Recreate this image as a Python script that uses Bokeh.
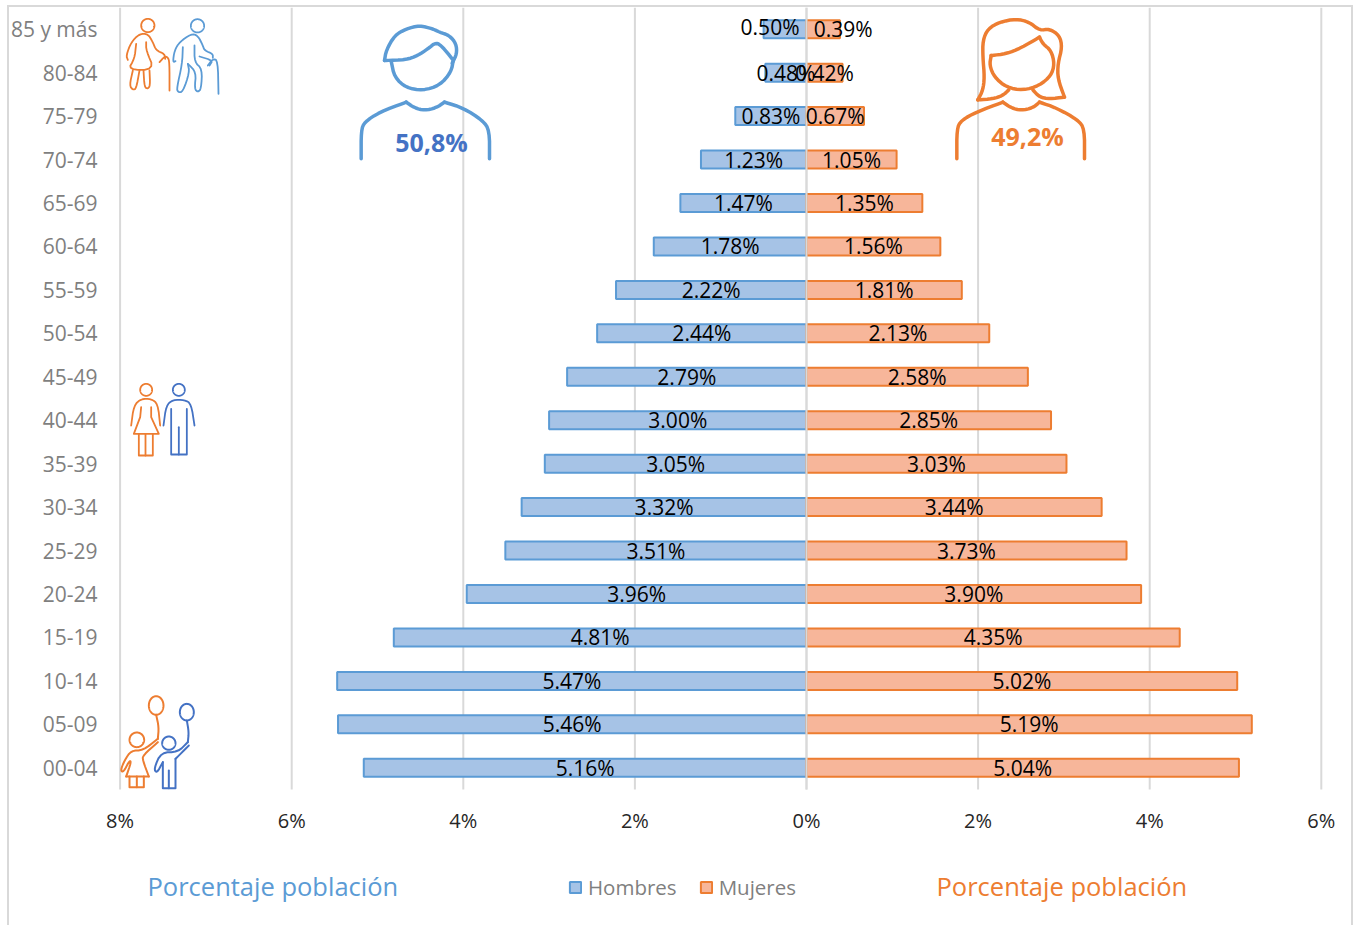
from bokeh.plotting import figure
from bokeh.models import (Range1d, ColumnDataSource, FixedTicker, Legend, LegendItem)
from bokeh.core.properties import value
from bokeh.embed import file_html
from bokeh.resources import INLINE
import math

# ---- data ----
age_groups = ["00-04", "05-09", "10-14", "15-19", "20-24", "25-29", "30-34", "35-39", "40-44",
              "45-49", "50-54", "55-59", "60-64", "65-69", "70-74", "75-79", "80-84", "85 y más"]
hombres = [5.16, 5.46, 5.47, 4.81, 3.96, 3.51, 3.32, 3.05, 3.00,
           2.79, 2.44, 2.22, 1.78, 1.47, 1.23, 0.83, 0.48, 0.50]
mujeres = [5.04, 5.19, 5.02, 4.35, 3.90, 3.73, 3.44, 3.03, 2.85,
           2.58, 2.13, 1.81, 1.56, 1.35, 1.05, 0.67, 0.42, 0.39]
x_ticks = [-8, -6, -4, -2, 0, 2, 4, 6]
x_tick_labels = {-8: "8%", -6: "6%", -4: "4%", -2: "2%", 0: "0%", 2: "2%", 4: "4%", 6: "6%"}
total_hombres = "50,8%"
total_mujeres = "49,2%"
axis_caption = "Porcentaje población"

BLUE, BLUE_F = "#5B9BD5", "#A6C3E6"
DBLUE = "#4472C4"
ORANGE, ORANGE_F = "#ED7D31", "#F7B69A"
GRID, GRAY = "#D9D9D9", "#7F7F7F"
FONT = "Open Sans"
W, H = 1353, 925
F_TOP, F_BOT, LEFT, RIGHT, ZERO, PERPCT, ROW = 7, 789, 104, 1351, 806, 85.8, 43.44

rows = list(range(len(age_groups)))
grad = f"linear-gradient({GRID},{GRID})"
frame_css = (f"{grad} 7px 5px / 2px 920px no-repeat, {grad} 7px 5px / 1346px 2px no-repeat, "
             f"{grad} 1351px 5px / 2px 920px no-repeat, #ffffff")

p = figure(width=W, height=H, output_backend="svg", toolbar_location=None,
           x_range=Range1d((LEFT - ZERO) / PERPCT, (RIGHT - ZERO) / PERPCT),
           y_range=Range1d(-0.5 - (H - F_BOT) / ROW, len(age_groups) - 0.5),
           min_border_left=LEFT, min_border_right=W - RIGHT,
           min_border_top=F_TOP, min_border_bottom=0,
           outline_line_color=None, border_fill_color=None, background_fill_color=None,
           styles={"background": frame_css})
p.extra_x_ranges["px"] = Range1d(LEFT + 1, RIGHT + 1)
p.extra_y_ranges["py"] = Range1d(H, F_TOP)

p.grid.visible = False
p.segment(x0=x_ticks, x1=x_ticks, y0=[-0.5] * len(x_ticks), y1=[len(age_groups) - 0.5] * len(x_ticks),
          line_color=GRID, line_width=2)

p.xaxis.fixed_location = -0.5
p.xaxis.ticker = FixedTicker(ticks=x_ticks)
p.xaxis.major_label_overrides = x_tick_labels
p.xaxis.axis_line_color = None
p.xaxis.major_tick_line_color = None
p.xaxis.minor_tick_line_color = None
p.xaxis.major_label_standoff = 12
p.xaxis.major_label_text_font = FONT
p.xaxis.major_label_text_font_size = "20px"
p.xaxis.major_label_text_color = "#262626"
p.yaxis.ticker = FixedTicker(ticks=rows)
p.yaxis.major_label_overrides = dict(zip(rows, age_groups))
p.yaxis.axis_line_color = None
p.yaxis.major_tick_line_color = None
p.yaxis.minor_tick_line_color = None
p.yaxis.major_label_standoff = 1
p.yaxis.major_label_text_font = FONT
p.yaxis.major_label_text_font_size = "21px"
p.yaxis.major_label_text_color = GRAY

src = ColumnDataSource(dict(age=rows, h=[-v for v in hombres], m=mujeres))
BAR_H = 18 / ROW
r_h = p.hbar(y="age", left=0, right="h", height=BAR_H, source=src, fill_color=BLUE_F, line_color=BLUE, line_width=2)
r_m = p.hbar(y="age", left=0, right="m", height=BAR_H, source=src, fill_color=ORANGE_F, line_color=ORANGE, line_width=2)
p.segment(x0=[0], x1=[0], y0=[-0.5], y1=[len(age_groups) - 0.5], line_color=GRID, line_width=2)

def fmt(v):
    return f"{v:.2f}%"

lab_h = ColumnDataSource(dict(x=[-v / 2 for v in hombres], y=rows, t=[fmt(v) for v in hombres],
                              dx=[-15 if a == "85 y más" else 0 for a in age_groups],
                              dy=[-2 if a == "85 y más" else 0 for a in age_groups]))
lab_m = ColumnDataSource(dict(x=[v / 2 for v in mujeres], y=rows, t=[fmt(v) for v in mujeres],
                              dx=[20 if a == "85 y más" else 0 for a in age_groups],
                              dy=[0 for a in age_groups]))
for s in (lab_h, lab_m):
    p.text(x="x", y="y", text="t", x_offset="dx", y_offset="dy", source=s, text_align="center", text_baseline="middle",
           text_font=value(FONT), text_font_size="21px", text_color="#000000")

# ---- decorative icons, drawn on a pixel range ----
def smooth(pts, n=2):
    for _ in range(n):
        out = [pts[0]]
        for a, b in zip(pts, pts[1:]):
            out += [(.75 * a[0] + .25 * b[0], .75 * a[1] + .25 * b[1]), (.25 * a[0] + .75 * b[0], .25 * a[1] + .75 * b[1])]
        out.append(pts[-1])
        pts = out
    return pts

def draw(paths, color, width, ox, oy, sm=True):
    xs, ys = [], []
    for path in paths:
        q = smooth(path) if sm else path
        xs.append([ox + a / 3 for a, _ in q])
        ys.append([oy + b / 3 for _, b in q])
    p.multi_line(xs, ys, line_color=color, line_width=width, x_range_name="px", y_range_name="py",
                 line_cap="round", line_join="round")

def ring(cx, cy, rx, ry=None):
    ry = ry or rx
    return [(cx + rx * math.cos(i * math.pi / 18), cy + ry * math.sin(i * math.pi / 18)) for i in range(37)]

# man
draw([[(135, 180), (140, 150), (165, 105), (200, 85), (240, 75), (280, 85), (300, 95), (330, 105), (350, 130), (352, 160), (338, 188)],
      [(135, 180), (200, 178), (235, 165), (265, 145), (290, 125), (310, 140), (338, 175)],
      [(155, 182), (165, 230), (200, 262), (250, 270), (300, 255), (335, 215), (342, 175)],
      [(65, 475), (65, 390), (75, 365), (120, 335), (200, 305)], [(200, 305), (225, 322), (255, 330), (290, 322), (315, 305)],
      [(315, 305), (370, 322), (430, 360), (450, 390), (450, 475)]], BLUE, 3.5, 340, 0)
# woman
draw([[(115, 298), (130, 270), (135, 230), (130, 170), (130, 120), (145, 85), (180, 65), (230, 55), (270, 65), (300, 90), (330, 85), (360, 105), (368, 140), (355, 190), (355, 235), (375, 290)],
      [(375, 290), (330, 295), (300, 290), (280, 268)], [(115, 298), (160, 295), (190, 285), (208, 268)],
      [(155, 165), (200, 160), (245, 142), (300, 110)], [(300, 110), (310, 130), (335, 150), (345, 190), (335, 225), (300, 255), (250, 270), (200, 260), (165, 230), (150, 195), (155, 165)],
      [(52, 475), (52, 385), (65, 360), (110, 335), (190, 305)], [(190, 305), (215, 322), (245, 330), (280, 322), (300, 305)],
      [(300, 305), (350, 322), (415, 358), (435, 385), (435, 475)]], ORANGE, 3.5, 940, 0)
# elderly couple
draw([ring(445, 75, 20), [(385, 178), (380, 165), (395, 125), (420, 100), (445, 100), (460, 125), (470, 150), (495, 160), (497, 175)],
      [(410, 130), (405, 175), (385, 208), (465, 208), (440, 150), (440, 125)],
      [(400, 210), (390, 255), (400, 268), (410, 265), (420, 210)], [(432, 210), (435, 260), (445, 265), (452, 255), (450, 210)],
      [(480, 185), (495, 168), (505, 170), (510, 185), (510, 270)]], ORANGE, 1.8, 0, 0)
draw([ring(594, 76, 20), [(528, 182), (520, 185), (525, 150), (540, 125), (575, 100), (595, 105), (610, 135), (615, 150), (640, 160), (640, 172)],
      [(550, 140), (548, 190), (532, 262), (535, 275), (550, 275), (570, 215), (565, 190)],
      [(585, 135), (585, 185), (608, 205), (605, 265), (595, 275), (585, 265), (590, 215), (565, 190)],
      [(600, 168), (640, 180), (630, 195)], [(625, 195), (640, 175), (655, 180), (657, 280)]], BLUE, 1.8, 0, 0)
# adult couple
draw([ring(140, 58, 18), [(95, 165), (103, 105), (125, 85), (155, 85), (175, 100), (182, 165)]], ORANGE, 1.8, 100, 370)
draw([[(125, 110), (122, 140), (103, 190), (178, 190), (155, 140), (155, 110)],
      [(118, 190), (118, 255), (160, 255), (160, 190)], [(138, 190), (138, 255)]], ORANGE, 1.8, 100, 370, sm=False)
draw([ring(238, 58, 18), [(192, 165), (200, 105), (220, 88), (255, 88), (275, 100), (285, 165)]], DBLUE, 1.8, 100, 370)
draw([[(215, 115), (215, 252), (262, 252), (262, 115)], [(238, 170), (238, 252)]], DBLUE, 1.8, 100, 370, sm=False)
# children
draw([ring(170, 45, 22, 28), [(170, 73), (178, 110), (175, 145)], ring(112, 148, 22),
      [(175, 145), (130, 180), (95, 180), (75, 210), (63, 240), (72, 245), (90, 210), (95, 215), (80, 258)],
      [(148, 258), (130, 210), (130, 195), (175, 155)]], ORANGE, 2, 100, 690)
draw([[(80, 258), (148, 258)], [(90, 258), (90, 290), (133, 290), (133, 258)], [(112, 258), (112, 290)]], ORANGE, 2, 100, 690, sm=False)
draw([ring(262, 65, 21, 25), [(262, 90), (268, 125), (265, 155)], ring(208, 158, 20),
      [(265, 155), (235, 185), (185, 185), (163, 235), (172, 248), (190, 215)], [(228, 205), (268, 165)]], DBLUE, 2, 100, 690)
draw([[(190, 215), (190, 293), (228, 293), (228, 205)], [(208, 240), (208, 293)]], DBLUE, 2, 100, 690, sm=False)

# ---- totals and captions ----
cap = ColumnDataSource(dict(x=[432, 1028], y=[141, 135], t=[total_hombres, total_mujeres], c=[DBLUE, ORANGE]))
p.text(x="x", y="y", text="t", text_color="c", source=cap, x_range_name="px", y_range_name="py", text_align="center",
       text_baseline="middle", text_font=value(FONT), text_font_style="bold", text_font_size="25px")

cap2 = ColumnDataSource(dict(x=[148, 937], y=[885, 885], t=[axis_caption, axis_caption], c=[BLUE, ORANGE]))
p.text(x="x", y="y", text="t", text_color="c", source=cap2, x_range_name="px", y_range_name="py", text_align="left",
       text_baseline="middle", text_font=value(FONT), text_font_size="25.5px")

legend = Legend(items=[LegendItem(label="Hombres", renderers=[r_h]), LegendItem(label="Mujeres", renderers=[r_m])],
                orientation="horizontal", location=(464, H - 901), border_line_color=None, background_fill_alpha=0,
                glyph_width=14, glyph_height=14, label_standoff=6, spacing=22, padding=0, margin=0,
                label_text_font=FONT, label_text_font_size="20.5px", label_text_color=GRAY)
p.add_layout(legend, "center")

open("out.html", "w").write(file_html(p, INLINE))
